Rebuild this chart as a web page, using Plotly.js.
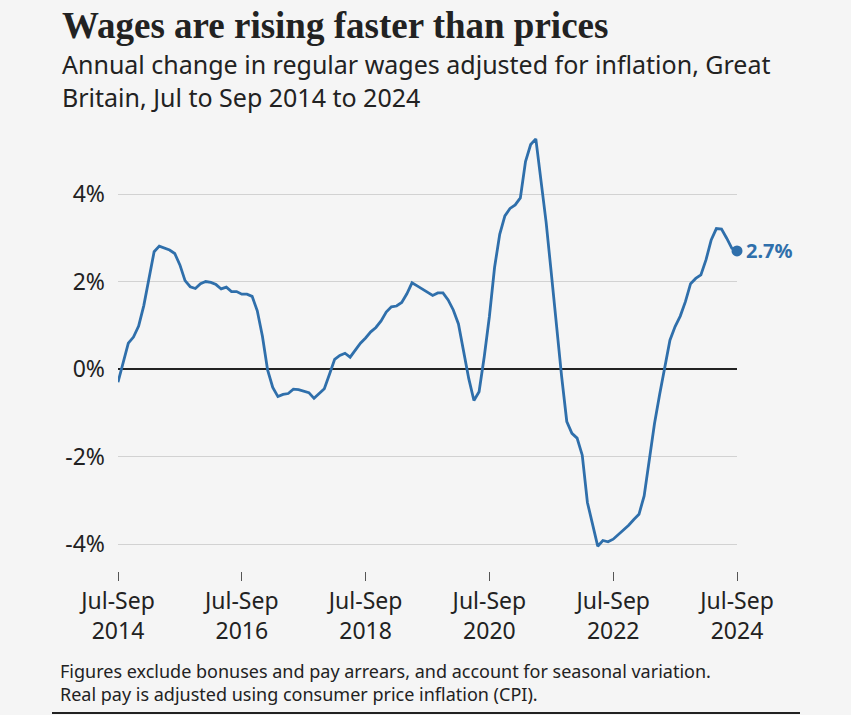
<!DOCTYPE html>
<html>
<head>
<meta charset="utf-8">
<script src="https://cdn.plot.ly/plotly-3.0.1.min.js"></script>
<style>html,body{margin:0;padding:0;background:#f5f5f5;}#chart{width:851px;height:715px;}</style>
</head>
<body>
<div id="chart"></div>
<script>
// Month names used to build the rolling three-month period labels
const monthNames = ["Jan","Feb","Mar","Apr","May","Jun","Jul","Aug","Sep","Oct","Nov","Dec"];
const startYear = 2014;
const startMonth = 6; // July (0-based)

// Annual % change in real regular pay, rolling 3 months, Jul-Sep 2014 ... Jul-Sep 2024
const realPayChange = [
  -0.3, 0.15, 0.59, 0.73, 0.98, 1.45, 2.05, 2.68, 2.81, 2.77,
  2.72, 2.64, 2.38, 2.02, 1.88, 1.84, 1.95, 2.0, 1.98, 1.93,
  1.83, 1.87, 1.77, 1.77, 1.71, 1.71, 1.66, 1.33, 0.75, -0.02,
  -0.42, -0.63, -0.58, -0.56, -0.46, -0.47, -0.51, -0.54, -0.67, -0.56,
  -0.45, -0.12, 0.22, 0.31, 0.36, 0.27, 0.43, 0.59, 0.71, 0.85,
  0.95, 1.10, 1.30, 1.42, 1.44, 1.52, 1.72, 1.97, 1.90, 1.83,
  1.76, 1.68, 1.74, 1.74, 1.58, 1.35, 1.03, 0.40, -0.22, -0.72,
  -0.52, 0.28, 1.2, 2.32, 3.08, 3.5, 3.67, 3.75, 3.91, 4.74,
  5.13, 5.26, 4.36, 3.35, 2.19, 0.96, -0.17, -1.2, -1.47, -1.58,
  -1.97, -3.05, -3.58, -4.05, -3.92, -3.95, -3.89, -3.79, -3.69, -3.57,
  -3.44, -3.32, -2.9, -2.1, -1.25, -0.58, 0.02, 0.66, 0.97, 1.21,
  1.54, 1.95, 2.07, 2.15, 2.5, 2.95, 3.21, 3.20, 2.99, 2.76,
  2.7
];

const xTickVals = ["Jul-Sep 2014","Jul-Sep 2016","Jul-Sep 2018","Jul-Sep 2020","Jul-Sep 2022","Jul-Sep 2024"];
const xTickText = ["Jul-Sep<br>2014","Jul-Sep<br>2016","Jul-Sep<br>2018","Jul-Sep<br>2020","Jul-Sep<br>2022","Jul-Sep<br>2024"];
const yTickVals = [-4, -2, 0, 2, 4];
const yTickText = ["-4%", "-2%", "0%", "2%", "4%"];
const endLabel = "2.7%";

const periods = realPayChange.map((v, i) => {
  const m0 = (startMonth + i) % 12;
  const m2 = (startMonth + i + 2) % 12;
  const y0 = startYear + Math.floor((startMonth + i) / 12);
  return monthNames[m0] + "-" + monthNames[m2] + " " + y0;
});

const blue = "#2f6fab";
const sans = "Noto Sans, Open Sans, sans-serif";
const n = realPayChange.length;

const traces = [
  {
    x: periods, y: realPayChange, type: "scatter", mode: "lines",
    line: {color: blue, width: 2.8}, hoverinfo: "skip"
  },
  {
    x: [periods[n-1]], y: [realPayChange[n-1]], type: "scatter", mode: "markers",
    marker: {color: blue, size: 11}, cliponaxis: false, hoverinfo: "skip"
  }
];

// plot area pixels: left 118, right 737, top 128, bottom 571
const T = 128, B = 571, L = 118, R = 737;
const py = Y => (B - Y) / (B - T);
const px = X => (X - L) / (R - L);

const layout = {
  width: 851, height: 715,
  margin: {l: L, r: 851 - R, t: T, b: 715 - B},
  paper_bgcolor: "#f5f5f5", plot_bgcolor: "#f5f5f5",
  showlegend: false,
  font: {family: sans, color: "#222222"},
  xaxis: {
    type: "category", range: [0, n - 1],
    tickvals: xTickVals, ticktext: xTickText,
    ticks: "outside", ticklen: 9, tickwidth: 1, tickcolor: "#555555",
    showgrid: false, zeroline: false, showline: false,
    tickfont: {family: sans, size: 23, color: "#222222"},
    fixedrange: true
  },
  yaxis: {
    range: [-4.617, 5.509],
    tickvals: yTickVals, ticktext: yTickText,
    showgrid: true, gridcolor: "#d2d2d2", gridwidth: 1,
    zeroline: true, zerolinecolor: "#222222", zerolinewidth: 2,
    showline: false, ticks: "", ticklabelstandoff: 12,
    tickfont: {family: sans, size: 23, color: "#222222"},
    fixedrange: true
  },
  annotations: [
    {
      text: "<b>Wages are rising faster than prices</b>",
      xref: "paper", yref: "paper", x: px(60), y: py(3),
      xanchor: "left", yanchor: "top", showarrow: false, align: "left",
      font: {family: "Liberation Serif, serif", size: 37, color: "#222222"}
    },
    {
      text: "Annual change in regular wages adjusted for inflation, Great<br>Britain, Jul to Sep 2014 to 2024",
      xref: "paper", yref: "paper", x: px(60), y: py(45),
      xanchor: "left", yanchor: "top", showarrow: false, align: "left",
      font: {family: sans, size: 25, color: "#222222"}
    },
    {
      text: "Figures exclude bonuses and pay arrears, and account for seasonal variation.<br>Real pay is adjusted using consumer price inflation (CPI).",
      xref: "paper", yref: "paper", x: px(58), y: py(657),
      xanchor: "left", yanchor: "top", showarrow: false, align: "left",
      font: {family: sans, size: 18, color: "#222222"}
    },
    {
      text: "<b>" + endLabel + "</b>",
      xref: "x", yref: "y", x: periods[n-1], y: realPayChange[n-1],
      xanchor: "left", yanchor: "middle", xshift: 7, showarrow: false,
      font: {family: sans, size: 20, color: blue}
    }
  ],
  shapes: [
    {
      type: "line", xref: "paper", yref: "paper",
      x0: px(52), x1: px(800), y0: py(713), y1: py(713),
      line: {color: "#222222", width: 2}
    }
  ]
};

Plotly.newPlot("chart", traces, layout, {displayModeBar: false, staticPlot: true});
</script>
</body>
</html>
